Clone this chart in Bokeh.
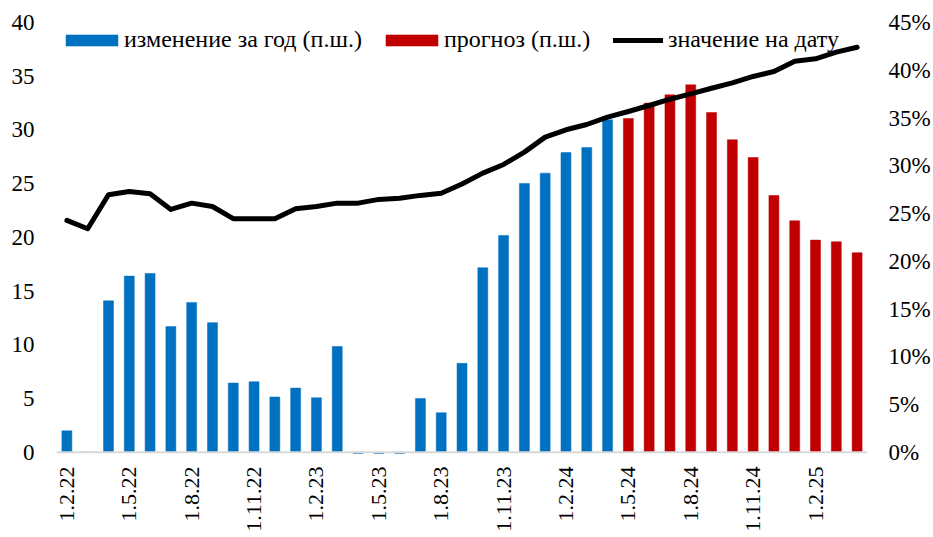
import math
from bokeh.plotting import figure
from bokeh.models import (Range1d, LinearAxis, FixedTicker, PrintfTickFormatter,
                          Span, Legend, LegendItem, ColumnDataSource)
from bokeh.embed import file_html
from bokeh.resources import INLINE

months = ["1.2.22", "1.3.22", "1.4.22", "1.5.22", "1.6.22", "1.7.22", "1.8.22", "1.9.22",
          "1.10.22", "1.11.22", "1.12.22",
          "1.1.23", "1.2.23", "1.3.23", "1.4.23", "1.5.23", "1.6.23", "1.7.23", "1.8.23",
          "1.9.23", "1.10.23", "1.11.23", "1.12.23",
          "1.1.24", "1.2.24", "1.3.24", "1.4.24", "1.5.24", "1.6.24", "1.7.24", "1.8.24",
          "1.9.24", "1.10.24", "1.11.24", "1.12.24",
          "1.1.25", "1.2.25", "1.3.25", "1.4.25"]

# изменение за год (п.ш.) — actual, 1.2.22 .. 1.4.24
change_actual = [2.0, 0.0, 14.1, 16.4, 16.65, 11.7, 13.95, 12.07, 6.45, 6.57, 5.15,
                 5.98, 5.08, 9.86, -0.1, -0.1, -0.1, 5.02, 3.69, 8.28, 17.18, 20.19, 25.02,
                 25.98, 27.9, 28.37, 30.95]
# прогноз (п.ш.) — forecast, 1.5.24 .. 1.4.25
change_forecast = [31.07, 32.5, 33.27, 34.2, 31.63, 29.09, 27.44, 23.9, 21.55, 19.75, 19.6, 18.58]
# значение на дату, %
level = [24.28, 23.41, 26.97, 27.31, 27.07, 25.43, 26.09, 25.74, 24.46, 24.46, 24.46,
         25.5, 25.74, 26.09, 26.09, 26.48, 26.61, 26.9, 27.13, 28.1, 29.23, 30.14, 31.43,
         33.0, 33.77, 34.32, 35.09, 35.68, 36.31, 36.97, 37.53, 38.12, 38.68, 39.35, 39.87,
         40.95, 41.2, 41.9, 42.41]

left_ticks = [0, 5, 10, 15, 20, 25, 30, 35, 40]
right_ticks = [0, 5, 10, 15, 20, 25, 30, 35, 40, 45]

FONT = "Liberation Serif"
n = len(months)
x_all = list(range(n))
n_act = len(change_actual)
x_act = x_all[:n_act]
x_fc = x_all[n_act:]

W, H = 933, 537
BL, BR, BT, BB = 56, 66, 22, 83

p = figure(width=W, height=H, output_backend="svg", toolbar_location=None,
           x_range=Range1d(-0.5, n - 0.5), y_range=Range1d(-0.2, 40),
           min_border_left=BL, min_border_right=BR, min_border_top=BT, min_border_bottom=BB)
p.outline_line_color = None
p.grid.visible = False
p.background_fill_color = "white"
p.border_fill_color = "white"

p.extra_y_ranges = {"pct": Range1d(-0.225, 45)}

src_a = ColumnDataSource(dict(x=x_act, top=change_actual))
src_f = ColumnDataSource(dict(x=x_fc, top=change_forecast))
src_l = ColumnDataSource(dict(x=x_all, y=level))

p.add_layout(Span(location=0, dimension="width", line_color="#d9d9d9", line_width=2))

r_a = p.vbar(x="x", top="top", bottom=0, width=0.48, source=src_a,
             fill_color="#0070C0", line_color="#0070C0", line_width=0.5)
r_f = p.vbar(x="x", top="top", bottom=0, width=0.48, source=src_f,
             fill_color="#C00000", line_color="#C00000", line_width=0.5)
r_l = p.line(x="x", y="y", source=src_l, y_range_name="pct", line_color="black",
             line_width=5, line_join="round", line_cap="round")

# left axis
ya = p.yaxis[0]
ya.ticker = FixedTicker(ticks=left_ticks)
ya.axis_line_color = None
ya.major_tick_line_color = None
ya.minor_tick_line_color = None
ya.major_tick_out = 0
ya.major_label_standoff = 22
ya.major_label_text_font = FONT
ya.major_label_text_font_size = "23px"
ya.major_label_text_color = "black"

# right axis
yr = LinearAxis(y_range_name="pct", ticker=FixedTicker(ticks=right_ticks),
                formatter=PrintfTickFormatter(format="%d%%"))
yr.axis_line_color = None
yr.major_tick_line_color = None
yr.minor_tick_line_color = None
yr.major_tick_out = 0
yr.major_label_standoff = 21
yr.major_label_text_font = FONT
yr.major_label_text_font_size = "23px"
yr.major_label_text_color = "black"
p.add_layout(yr, "right")

# bottom axis
label_idx = list(range(0, n, 3))
xa = p.xaxis[0]
xa.ticker = FixedTicker(ticks=label_idx)
xa.major_label_overrides = {i: months[i] for i in label_idx}
xa.axis_line_color = None
xa.major_tick_line_color = None
xa.minor_tick_line_color = None
xa.major_tick_out = 0
xa.major_label_standoff = 12
xa.major_label_orientation = math.pi / 2
xa.major_label_text_font = FONT
xa.major_label_text_font_size = "22px"
xa.major_label_text_color = "black"

common = dict(orientation="horizontal", padding=0, margin=0, border_line_color=None,
              background_fill_alpha=0, label_text_font=FONT, label_text_font_size="24px",
              label_text_color="black", label_height=24)

legend_bars = Legend(items=[LegendItem(label="изменение за год (п.ш.)", renderers=[r_a]),
                            LegendItem(label="прогноз (п.ш.)", renderers=[r_f])],
                     location=(3, 401), glyph_width=65, glyph_height=14,
                     label_standoff=0, spacing=17, **common)
legend_line = Legend(items=[LegendItem(label="значение на дату", renderers=[r_l])],
                     location=(557, 401), glyph_width=50, glyph_height=14,
                     label_standoff=5, **common)
p.add_layout(legend_bars, "center")
p.add_layout(legend_line, "center")

open("out.html", "w").write(file_html(p, INLINE))
